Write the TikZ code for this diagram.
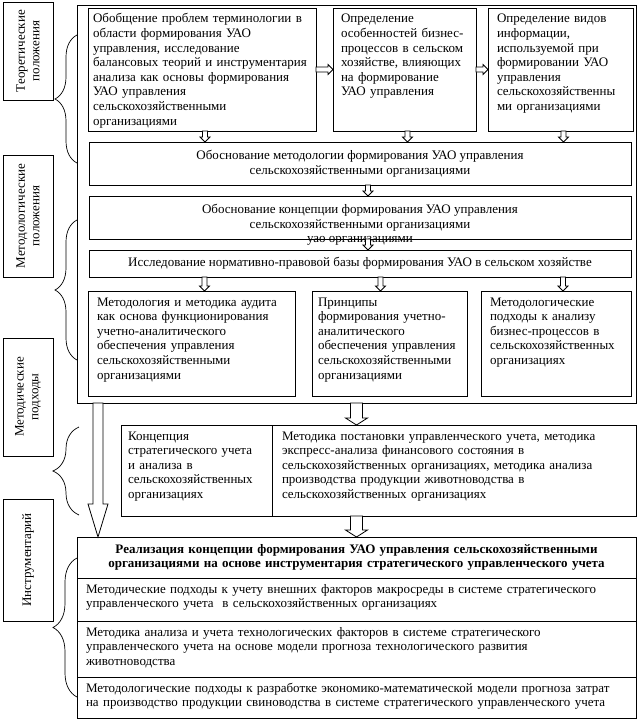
\documentclass[tikz,border=0pt]{standalone}
\usepackage{fontspec}
\setmainfont{Liberation Serif}
\usetikzlibrary{positioning, calc, decorations.pathreplacing}

\newcommand{\diagfont}{\fontsize{13}{14.6}\selectfont}

\begin{document}
\begin{tikzpicture}[
  x=1pt, y=-1pt,
  line width=0.8pt,
  font=\diagfont,
  every node/.style={outer sep=0pt},
  outerframe/.style={draw, anchor=north west, minimum width=559pt, minimum height=398pt},
  textbox/.style={draw, anchor=north west, align=left, inner xsep=9pt, inner ysep=6pt, text height=9pt},
  widebox/.style={draw, anchor=north west, align=center, minimum width=542pt},
  sidelabel/.style={draw, rotate=90, align=center, minimum height=50pt},
  sidebrace/.style={draw, line width=0.7pt, decorate, decoration={brace, amplitude=#1}},
  sidebrace/.default=22pt,
  blockarrow/.style n args={3}{draw, fill=white, to path={
    let \p1=($(\tikztotarget)!#3!(\tikztostart)$) in
    ($(\tikztostart)!#1!90:(\tikztotarget)$) -- ($(\p1)!#1!90:(\tikztotarget)$)
    -- ($(\p1)!#2!90:(\tikztotarget)$) -- (\tikztotarget)
    -- ($(\p1)!#2!-90:(\tikztotarget)$) -- ($(\p1)!#1!-90:(\tikztotarget)$)
    -- ($(\tikztostart)!#1!-90:(\tikztotarget)$) -- cycle}},
  smallarrow/.style={blockarrow={2.5pt}{5pt}{5pt}},
  midarrow/.style={blockarrow={6pt}{11pt}{7pt}},
  bigarrow/.style={blockarrow={5pt}{10pt}{33pt}}
]
\useasboundingbox (0,0) rectangle (639,720);

% left column
\node[sidelabel, minimum width=98pt] (lab1) at (28,51) {Теоретические\\положения};
\node[sidelabel, minimum width=122pt] (lab2) at (28,216) {Методологические\\положения};
\node[sidelabel, minimum width=118pt] (lab3) at (28,397) {Методические\\подходы};
\node[sidelabel, minimum width=122pt] (lab4) at (28,560) {Инструментарий};

\draw[sidebrace] (77,163) -- (77,35);
\draw[sidebrace] (77,360) -- (77,220);
\draw[sidebrace=26pt] (79,515) -- (79,427);
\draw[sidebrace=24pt] (77,697) -- (77,558);

% upper block
\node[outerframe] (frame) at (77,5) {};
\node[textbox, inner xsep=5pt, text width=218pt, text depth=102pt] (obob) at (88,8) {Обобщение проблем терминологии в\\области формирования УАО\\управления, исследование\\балансовых теорий и инструментария\\анализа как основы формирования\\УАО управления\\сельскохозяйственными\\организациями};
\node[textbox, inner xsep=8pt, text width=127pt, text depth=102pt, right=17pt of obob] (osob) {Определение\\особенностей бизнес-\\процессов в сельском\\хозяйстве, влияющих\\на формирование\\УАО управления};
\node[textbox, text width=127pt, text depth=102pt, right=12pt of osob] (vidy) {Определение видов\\информации,\\используемой при\\формировании УАО\\управления\\сельскохозяйственны\\ми организациями};

\node[widebox, minimum height=43pt] (metod) at (89,142) {Обоснование методологии формирования УАО управления\\сельскохозяйственными организациями};
\node[widebox, minimum height=43pt, below=11pt of metod] (konc) {Обоснование концепции формирования УАО управления\\сельскохозяйственными организациями};
\node[inner sep=0pt] (konc2) at ([yshift=-2pt]konc.south) {уао организациями};
\node[widebox, minimum height=27pt, below=11pt of konc] (issl) {Исследование нормативно-правовой базы формирования УАО в сельском хозяйстве};

\node[textbox, text width=189pt, text depth=84pt] (audit) at (88,291) {Методология и методика аудита\\как основа функционирования\\учетно-аналитического\\обеспечения управления\\сельскохозяйственными\\организациями};
\node[textbox, inner xsep=6pt, text width=143pt, text depth=84pt, right=17pt of audit] (princ) {Принципы\\формирования учетно-\\аналитического\\обеспечения управления\\сельскохозяйственными\\организациями};
\node[textbox, text width=132pt, text depth=84pt, right=14pt of princ] (podh) {Методологические\\подходы к анализу\\бизнес-процессов в\\сельскохозяйственных\\организациях};

% middle block
\node[textbox, inner xsep=7pt, text width=137pt, text depth=70pt] (strat) at (121,425) {Концепция\\стратегического учета\\и анализа в\\сельскохозяйственных\\организациях};
\node[textbox, inner xsep=10pt, text width=344pt, text depth=70pt, right=0pt of strat] (metodika) {Методика постановки управленческого учета, методика\\экспресс-анализа финансового состояния в\\сельскохозяйственных организациях, методика анализа\\производства продукции животноводства в\\сельскохозяйственных организациях};

% lower table
\node[draw, anchor=north west, text width=541pt, inner xsep=9pt, align=center, minimum height=41pt, font=\diagfont\bfseries] (real) at (77,537) {Реализация концепции формирования УАО управления сельскохозяйственными\\организациями на основе инструментария стратегического управленческого учета};
\node[textbox, text width=541pt, text depth=22pt, below=0pt of real] (row1) {Методические подходы к учету внешних факторов макросреды в системе стратегического\\управленческого учета~ в сельскохозяйственных организациях};
\node[textbox, text width=541pt, text depth=35pt, below=0pt of row1] (row2) {Методика анализа и учета технологических факторов в системе стратегического\\управленческого учета на основе модели прогноза технологического развития\\животноводства};
\node[textbox, text width=541pt, text depth=20pt, below=0pt of row2] (row3) {Методологические подходы к разработке экономико-математической модели прогноза затрат\\на производство продукции свиноводства в системе стратегического управленческого учета};

% arrows
\draw[smallarrow] (obob.east) to (osob.west);
\draw[smallarrow] (osob.east) to (vidy.west);
\draw[smallarrow] ([xshift=3pt]obob.south) to ([xshift=3pt]obob.south |- metod.north);
\draw[smallarrow] ([xshift=3pt]osob.south) to ([xshift=3pt]osob.south |- metod.north);
\draw[smallarrow] ([xshift=3pt]vidy.south) to ([xshift=3pt]vidy.south |- metod.north);
\draw[smallarrow] ([xshift=8pt]metod.south) to ([xshift=8pt]konc.north);
\draw[smallarrow] ([xshift=8pt]konc.south) to ([xshift=8pt]issl.north);
\draw[smallarrow] ([xshift=13pt]audit.north |- issl.south) to ([xshift=13pt]audit.north);
\draw[smallarrow] ([xshift=-9pt]princ.north |- issl.south) to ([xshift=-9pt]princ.north);
\draw[smallarrow] ([xshift=7pt]podh.north |- issl.south) to ([xshift=7pt]podh.north);
\draw[midarrow] (frame.south) to (frame.south |- metodika.north);
\draw[midarrow] (frame.south |- metodika.south) to (frame.south |- real.north);
\draw[bigarrow] ([xshift=21pt]frame.south west) to ([xshift=21pt]real.north west);

\end{tikzpicture}
\end{document}
